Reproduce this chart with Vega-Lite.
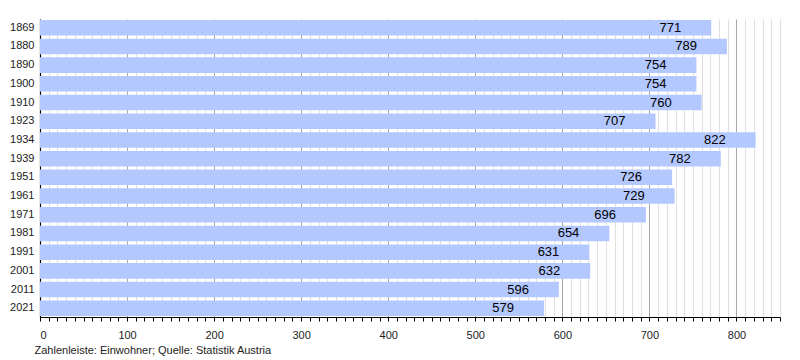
{
  "$schema": "https://vega.github.io/schema/vega-lite/v6.json",
  "autosize": {"type": "none"},
  "width": 740,
  "height": 298,
  "padding": {"left": 40, "top": 19, "right": 20, "bottom": 43},
  "background": "white",
  "config": {"view": {"stroke": null}, "font": "Liberation Sans"},
  "data": {"values": [
    {"year": "1869", "pop": 771},
    {"year": "1880", "pop": 789},
    {"year": "1890", "pop": 754},
    {"year": "1900", "pop": 754},
    {"year": "1910", "pop": 760},
    {"year": "1923", "pop": 707},
    {"year": "1934", "pop": 822},
    {"year": "1939", "pop": 782},
    {"year": "1951", "pop": 726},
    {"year": "1961", "pop": 729},
    {"year": "1971", "pop": 696},
    {"year": "1981", "pop": 654},
    {"year": "1991", "pop": 631},
    {"year": "2001", "pop": 632},
    {"year": "2011", "pop": 596},
    {"year": "2021", "pop": 579}
  ]},
  "encoding": {
    "y": {"field": "year", "type": "ordinal", "sort": null,
      "scale": {"paddingInner": 0.17, "paddingOuter": 0.05},
      "axis": {"title": null, "ticks": false, "domainColor": "#000", "domainWidth": 1.2, "labelFontSize": 11, "labelColor": "#222", "labelPadding": 6}},
    "x": {"field": "pop", "type": "quantitative",
      "scale": {"domain": [0, 850], "nice": false, "zero": true},
      "axis": {
        "values": [0,10,20,30,40,50,60,70,80,90,100,110,120,130,140,150,160,170,180,190,200,210,220,230,240,250,260,270,280,290,300,310,320,330,340,350,360,370,380,390,400,410,420,430,440,450,460,470,480,490,500,510,520,530,540,550,560,570,580,590,600,610,620,630,640,650,660,670,680,690,700,710,720,730,740,750,760,770,780,790,800,810,820,830,840,850],
        "labelExpr": "datum.value % 100 === 0 ? datum.label : ''",
        "labelFontSize": 11, "labelColor": "#222", "labelPadding": 8,
        "grid": true,
        "gridColor": {"condition": {"test": "datum.value % 100 === 0", "value": "#a8a8a8"}, "value": "#e0e0e0"},
        "gridWidth": 1,
        "tickColor": "#000", "tickSize": 4, "domainColor": "#000", "domainWidth": 1.2,
        "title": "Zahlenleiste: Einwohner; Quelle: Statistik Austria",
        "titleAnchor": "start", "titleAlign": "left", "titleX": -6, "titleFontWeight": "normal", "titleFontSize": 11, "titleColor": "#222", "titlePadding": 4
      }}
  },
  "layer": [
    {"mark": {"type": "bar", "color": "#b3c8ff"}},
    {"mark": {"type": "text", "align": "right", "baseline": "middle", "dx": -30, "fontSize": 13, "color": "#000"},
      "encoding": {"text": {"field": "pop", "type": "quantitative"}}}
  ]
}
